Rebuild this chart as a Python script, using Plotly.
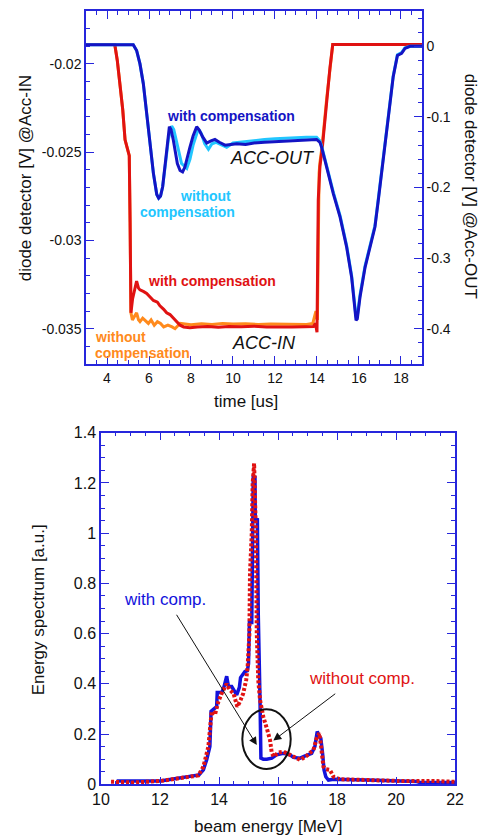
import plotly.graph_objects as go

# ---------------- top chart data (time in us) ----------------
# ACC-IN, with compensation (left axis, V)
in_comp_t = [3.0, 4.37, 4.49, 4.62, 4.75, 4.86, 4.94, 5.06, 5.10, 5.14, 5.22, 5.30, 5.41, 5.50, 5.57, 5.75, 5.89,
             6.05, 6.21, 6.40, 6.52, 6.70, 6.84, 7.00, 7.16, 7.30, 7.48, 7.65, 7.95, 8.3, 8.8, 9.3, 9.8, 10.4,
             11.0, 11.6, 12.2, 12.8, 13.4, 13.83, 13.93, 14.00, 14.06, 14.10, 14.14, 14.25, 14.46, 14.62, 14.75,
             16.0, 17.5, 19.0]
in_comp_v = [-0.0189, -0.0189, -0.0198, -0.0211, -0.0226, -0.0243, -0.0247, -0.0252, -0.0290, -0.0341, -0.0333, -0.0329,
             -0.0323, -0.0327, -0.0328, -0.0329, -0.0330, -0.0332, -0.0334, -0.0335, -0.0337, -0.0339, -0.0341,
             -0.0342, -0.0344, -0.0346, -0.0348, -0.0349, -0.03494, -0.0349, -0.03488, -0.03492, -0.03487,
             -0.03489, -0.03486, -0.03490, -0.03488, -0.03490, -0.03489, -0.03488, -0.0347, -0.0352, -0.0277,
             -0.0265, -0.0258, -0.0248, -0.0221, -0.0202, -0.0189, -0.0189, -0.0189, -0.0189]

# ACC-IN, without compensation (left axis, V)
in_nocomp_t = [3.0, 4.37, 4.49, 4.62, 4.75, 4.86, 4.94, 5.06, 5.10, 5.14, 5.21, 5.30, 5.41, 5.50, 5.57, 5.70, 5.85,
               5.97, 6.10, 6.25, 6.40, 6.55, 6.70, 6.90, 7.10, 7.24, 7.48, 7.70, 8.0, 8.5, 9.0, 9.5, 10.0, 10.6,
               11.2, 11.8, 12.4, 13.0, 13.5, 13.80, 13.95, 14.02, 14.06, 14.10, 14.14, 14.25, 14.46, 14.62, 14.75,
               16.0, 19.0]
in_nocomp_v = [-0.0189, -0.0189, -0.0198, -0.0211, -0.0226, -0.0243, -0.0247, -0.0252, -0.0290, -0.0341, -0.0345,
               -0.0343, -0.0341, -0.0345, -0.0346, -0.0344, -0.0346, -0.0347, -0.0345, -0.0348, -0.0346, -0.0347,
               -0.0349, -0.0348, -0.0349, -0.0350, -0.0347, -0.03475, -0.03478, -0.03472, -0.03476, -0.03470,
               -0.03474, -0.03472, -0.03476, -0.03473, -0.03475, -0.03474, -0.03476, -0.0347, -0.0340, -0.0345,
               -0.0285, -0.0262, -0.0256, -0.0246, -0.0220, -0.0201, -0.0189, -0.0189, -0.0189]

# ACC-OUT, with compensation (right axis, V)
out_comp_t = [3.0, 5.25, 5.41, 5.57, 5.73, 5.89, 6.05, 6.21, 6.37, 6.46, 6.55, 6.65, 6.79, 6.89, 6.97, 7.05, 7.16,
              7.35, 7.48, 7.60, 7.71, 7.95, 8.10, 8.27, 8.40, 8.55, 8.75, 8.95, 9.14, 9.35, 9.62, 9.9, 10.18, 10.6,
              11.0, 11.5, 12.0, 12.5, 13.0, 13.5, 13.98, 14.14, 14.22, 14.46, 14.78, 15.10, 15.41, 15.65, 15.86,
              15.92, 16.05, 16.29, 16.52, 16.76, 16.92, 17.16, 17.40, 17.63, 17.83, 18.03, 18.19, 18.43, 19.0]
out_comp_v = [0.002, 0.002, -0.006, -0.025, -0.053, -0.095, -0.138, -0.180, -0.210, -0.215, -0.212, -0.199,
              -0.162, -0.130, -0.114, -0.118, -0.133, -0.166, -0.176, -0.178, -0.171, -0.143, -0.127, -0.114,
              -0.119, -0.128, -0.137, -0.134, -0.132, -0.136, -0.140, -0.139, -0.138, -0.139, -0.137, -0.136,
              -0.135, -0.134, -0.133, -0.133, -0.132, -0.136, -0.143, -0.171, -0.209, -0.242, -0.284, -0.327,
              -0.388, -0.386, -0.355, -0.313, -0.284, -0.256, -0.218, -0.162, -0.100, -0.043, -0.013, -0.010,
              -0.003, 0.0, 0.0]

# ACC-OUT, without compensation (right axis, V)
out_nocomp_t = [3.0, 5.25, 5.41, 5.57, 5.73, 5.89, 6.05, 6.21, 6.37, 6.46, 6.55, 6.65, 6.79, 6.92, 7.08, 7.18,
                7.35, 7.55, 7.80, 7.95, 8.10, 8.35, 8.50, 8.65, 8.83, 9.0, 9.2, 9.45, 9.70, 10.0, 10.5, 11.0, 11.5,
                12.0, 12.5, 13.0, 13.5, 13.98, 14.14, 14.22, 14.46, 14.78, 15.10, 15.41, 15.65, 15.86, 15.92,
                16.05, 16.29, 16.52, 16.76, 16.92, 17.16, 17.40, 17.63, 17.83, 18.03, 18.19, 18.43, 19.0]
out_nocomp_v = [0.002, 0.002, -0.006, -0.025, -0.053, -0.095, -0.138, -0.180, -0.210, -0.215, -0.212, -0.199,
                -0.165, -0.132, -0.113, -0.118, -0.140, -0.166, -0.173, -0.160, -0.140, -0.117, -0.124, -0.138,
                -0.146, -0.138, -0.136, -0.140, -0.143, -0.137, -0.135, -0.133, -0.132, -0.131, -0.130, -0.130,
                -0.129, -0.129, -0.134, -0.141, -0.169, -0.207, -0.240, -0.282, -0.325, -0.384, -0.382, -0.352,
                -0.311, -0.282, -0.254, -0.216, -0.160, -0.098, -0.042, -0.012, -0.009, -0.002, 0.0, 0.0]

# ---------------- bottom chart data (beam energy in MeV) ----------------
spec_comp_e = [10.53, 12.0, 12.23, 12.56, 12.9, 13.32, 13.47, 13.58, 13.69, 13.73, 13.92, 13.94, 14.09, 14.17, 14.26,
               14.32, 14.43, 14.54, 14.60, 14.69, 14.73, 14.88, 14.96, 15.00, 15.03, 15.11, 15.12, 15.16, 15.22,
               15.23, 15.30, 15.33, 15.39, 15.42, 15.50, 15.62, 15.79, 15.95, 16.18, 16.41, 16.52, 16.75, 16.92,
               17.14, 17.25, 17.33, 17.40, 17.45, 17.51, 17.56, 17.62, 17.71, 17.88, 18.44, 19.0, 20.14, 20.7,
               20.81, 22.0]
spec_comp_v = [0.013, 0.013, 0.017, 0.024, 0.030, 0.037, 0.057, 0.097, 0.150, 0.290, 0.309, 0.365, 0.365, 0.389,
               0.430, 0.389, 0.389, 0.369, 0.356, 0.386, 0.425, 0.449, 0.452, 0.480, 0.644, 0.644, 0.853, 1.222,
               1.222, 1.046, 1.059, 0.680, 0.336, 0.104, 0.100, 0.100, 0.104, 0.117, 0.123, 0.117, 0.107, 0.104,
               0.113, 0.123, 0.150, 0.210, 0.190, 0.183, 0.123, 0.057, 0.030, 0.017, 0.020, 0.020, 0.017, 0.013,
               0.011, 0.007, 0.007]

spec_nocomp_e = [10.34, 11.1, 12.0, 12.5, 13.0, 13.3, 13.47, 13.64, 13.75, 13.86, 13.98, 14.09, 14.26, 14.37,
                 14.49, 14.62, 14.71, 14.82, 14.92, 14.97, 15.03, 15.05, 15.11, 15.14, 15.19, 15.23, 15.25, 15.28,
                 15.33, 15.39, 15.50, 15.62, 15.73, 15.79, 15.86, 16.01, 16.18, 16.41, 16.75, 16.97, 17.20, 17.31,
                 17.40, 17.46, 17.54, 17.63, 17.76, 17.88, 18.10, 19.0, 20.14, 21.27, 22.0]
spec_nocomp_v = [0.010, 0.007, 0.013, 0.020, 0.028, 0.035, 0.070, 0.150, 0.290, 0.276, 0.330, 0.362, 0.400,
                 0.375, 0.362, 0.309, 0.329, 0.362, 0.415, 0.468, 0.601, 0.840, 1.000, 1.198, 1.278, 1.158, 1.000,
                 0.600, 0.415, 0.336, 0.269, 0.223, 0.176, 0.123, 0.110, 0.126, 0.130, 0.117, 0.097, 0.113, 0.137,
                 0.183, 0.203, 0.150, 0.070, 0.060, 0.057, 0.030, 0.020, 0.017, 0.013, 0.013, 0.010]

# tick labels
left_tickvals = [-0.02, -0.025, -0.03, -0.035]
left_ticktext = ["-0.02", "-0.025", "-0.03", "-0.035"]
right_tickvals = [0, -0.1, -0.2, -0.3, -0.4]
right_ticktext = ["0", "-0.1", "-0.2", "-0.3", "-0.4"]
time_ticks = [4, 6, 8, 10, 12, 14, 16, 18]
energy_ticks = [10, 12, 14, 16, 18, 20, 22]
spec_ticks = [0, 0.2, 0.4, 0.6, 0.8, 1, 1.2, 1.4]
spec_ticktext = ["0", "0.2", "0.4", "0.6", "0.8", "1", "1.2", "1.4"]

FRAME = "#2626dc"
FONT = "Liberation Sans, Arial, sans-serif"
RED = "#e01212"
ORANGE = "#ff8a1c"
LBLUE = "#22c6ff"
DBLUE = "#1414c4"
BBLUE = "#1212dc"

fig = go.Figure()
fig.add_trace(go.Scatter(x=in_nocomp_t, y=in_nocomp_v, mode="lines", line=dict(color=ORANGE, width=3),
                         xaxis="x", yaxis="y"))
fig.add_trace(go.Scatter(x=in_comp_t, y=in_comp_v, mode="lines", line=dict(color=RED, width=3),
                         xaxis="x", yaxis="y"))
fig.add_trace(go.Scatter(x=out_nocomp_t, y=out_nocomp_v, mode="lines", line=dict(color=LBLUE, width=3),
                         xaxis="x", yaxis="y2"))
fig.add_trace(go.Scatter(x=out_comp_t, y=out_comp_v, mode="lines", line=dict(color=DBLUE, width=3),
                         xaxis="x", yaxis="y2"))
fig.add_trace(go.Scatter(x=spec_comp_e, y=spec_comp_v, mode="lines", line=dict(color=BBLUE, width=3.5),
                         xaxis="x2", yaxis="y3"))
fig.add_trace(go.Scatter(x=spec_nocomp_e, y=spec_nocomp_v, mode="lines",
                         line=dict(color=RED, width=4, dash="3px,2px"), xaxis="x2", yaxis="y3"))

common = dict(showline=True, linecolor=FRAME, linewidth=1.5, ticks="inside", tickcolor=FRAME, tickwidth=1.2,
              ticklen=8, showgrid=False, zeroline=False, automargin=False,
              tickfont=dict(family=FONT, size=14, color="#111111"))

fig.update_layout(
    width=481, height=837, margin=dict(l=0, r=0, t=0, b=0),
    paper_bgcolor="white", plot_bgcolor="white", showlegend=False,
    font=dict(family=FONT),
    xaxis=dict(common, domain=[0.1788, 0.8773], range=[3, 19], tickmode="array", tickvals=time_ticks,
               mirror="ticks", anchor="y",
               minor=dict(dtick=0.5, tick0=0, ticklen=4, tickcolor=FRAME, ticks="inside")),
    yaxis=dict(common, domain=[0.5651, 0.9869], range=[-0.037, -0.017], tickmode="array",
               tickvals=left_tickvals, ticktext=left_ticktext, anchor="x",
               minor=dict(dtick=0.001, tick0=0, ticklen=4, tickcolor=FRAME, ticks="inside")),
    yaxis2=dict(common, range=[-0.45, 0.05], overlaying="y", side="right", anchor="x", tickmode="array",
                tickvals=right_tickvals, ticktext=right_ticktext,
                minor=dict(dtick=0.02, tick0=0, ticklen=4, tickcolor=FRAME, ticks="inside")),
    xaxis2=dict(common, domain=[0.21, 0.946], range=[10, 22], tickmode="array", tickvals=energy_ticks,
                mirror="ticks", anchor="y3", tickfont=dict(family=FONT, size=16, color="#111111"),
                minor=dict(dtick=0.5, tick0=0, ticklen=4, tickcolor=FRAME, ticks="inside")),
    yaxis3=dict(common, domain=[0.063, 0.483], range=[0, 1.4], tickmode="array", tickvals=spec_ticks,
                ticktext=spec_ticktext, mirror="ticks", anchor="x2",
                tickfont=dict(family=FONT, size=16, color="#111111"),
                minor=dict(dtick=0.05, tick0=0, ticklen=4, tickcolor=FRAME, ticks="inside")),
)

ann = []
def txt(text, x, y, xref, yref, size, color, bold=False, italic=False, angle=0, xanchor="center"):
    t = text
    if bold:
        t = "<b>" + t + "</b>"
    if italic:
        t = "<i>" + t + "</i>"
    ann.append(dict(text=t, x=x, y=y, xref=xref, yref=yref, showarrow=False, textangle=angle,
                    xanchor=xanchor, yanchor="middle",
                    font=dict(family=FONT, size=size, color=color)))

# axis titles
txt("time [us]", 0.511, 0.520, "paper", "paper", 17, "#111111")
txt("diode detector [V] @Acc-IN", 0.052, 0.787, "paper", "paper", 17, "#111111", angle=-90)
txt("diode detector [V] @Acc-OUT", 0.977, 0.777, "paper", "paper", 17, "#111111", angle=90)
txt("Energy spectrum [a.u.]", 0.0797, 0.2712, "paper", "paper", 17, "#111111", angle=-90)
txt("beam energy [MeV]", 0.557, 0.0123, "paper", "paper", 17, "#111111")

# top chart labels
txt("with compensation", 9.90, -0.02297, "x", "y", 14, DBLUE, bold=True)
txt("without", 8.69, -0.02749, "x", "y", 14, LBLUE, bold=True)
txt("compensation", 7.85, -0.02840, "x", "y", 14, LBLUE, bold=True)
txt("ACC-OUT", 11.88, -0.02532, "x", "y", 18, "#111111", italic=True)
txt("with compensation", 9.02, -0.03231, "x", "y", 14, RED, bold=True)
txt("without", 3.35, -0.03548, "x", "y", 14, ORANGE, bold=True, xanchor="left")
txt("compensation", 3.35, -0.03636, "x", "y", 14, ORANGE, bold=True, xanchor="left")
txt("ACC-IN", 11.48, -0.03581, "x", "y", 18, "#111111", italic=True)

# bottom chart labels
txt("with comp.", 12.17, 0.734, "x2", "y3", 17, BBLUE)
txt("without comp.", 18.84, 0.422, "x2", "y3", 17, RED)

for (hx, hy, tx, ty) in [(15.28, 0.156, 12.53, 0.681), (15.84, 0.174, 17.99, 0.365)]:
    ann.append(dict(x=hx, y=hy, ax=tx, ay=ty, xref="x2", yref="y3", axref="x2", ayref="y3", text="",
                    showarrow=True, arrowhead=2, arrowsize=1.6, arrowwidth=1, arrowcolor="#111111"))

fig.update_layout(annotations=ann)
fig.add_shape(type="circle", xref="x2", yref="y3", x0=14.79, x1=16.43, y0=0.061, y1=0.2986,
              line=dict(color="#111111", width=2))

fig.write_html("out.html", config={"displayModeBar": False},
               post_script="document.body.style.margin='0';document.body.style.overflow='hidden';")
